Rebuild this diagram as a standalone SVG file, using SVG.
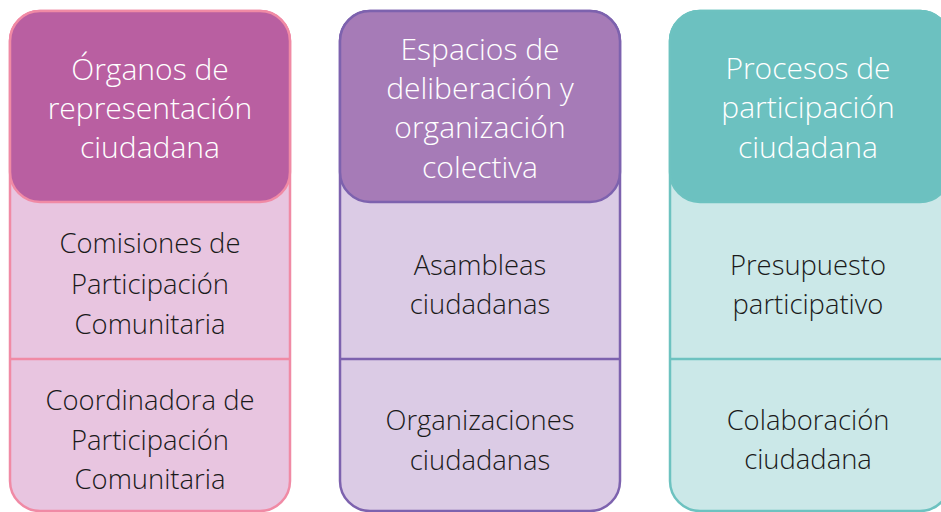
<svg xmlns="http://www.w3.org/2000/svg" width="941" height="512" viewBox="0 0 941 512">
<style>
text{font-family:"Open Sans","Noto Sans",sans-serif;font-size:27.4px;text-anchor:middle;font-weight:350}
.h{fill:#ffffff;font-size:30px}
.b{fill:#1a1a1a}
</style>
<rect width="941" height="512" fill="#ffffff"/>
<g id="col1">
<rect x="10" y="11" width="280" height="500" rx="30" fill="#e8c5e0" stroke="#f08aa5" stroke-width="2.5"/>
<line x1="10" y1="359" x2="290" y2="359" stroke="#f08aa5" stroke-width="2.5"/>
<rect x="10" y="11" width="280" height="191" rx="30" fill="#b95fa1" stroke="#f08aa5" stroke-width="2.5"/>
<text class="h" x="150" y="80">Órganos de</text>
<text class="h" x="150" y="119">representación</text>
<text class="h" x="150" y="158">ciudadana</text>
<text class="b" x="150" y="253">Comisiones de</text>
<text class="b" x="150" y="294">Participación</text>
<text class="b" x="150" y="334">Comunitaria</text>
<text class="b" x="150" y="410">Coordinadora de</text>
<text class="b" x="150" y="450">Participación</text>
<text class="b" x="150" y="489">Comunitaria</text>
</g>
<g id="col2">
<rect x="340" y="11" width="280" height="500" rx="30" fill="#dbcbe5" stroke="#7d62ae" stroke-width="2.5"/>
<line x1="340" y1="359" x2="620" y2="359" stroke="#7d62ae" stroke-width="2.5"/>
<rect x="340" y="11" width="280" height="191" rx="30" fill="#a67bb7" stroke="#7d62ae" stroke-width="2.5"/>
<text class="h" x="480" y="60">Espacios de</text>
<text class="h" x="480" y="99">deliberación y</text>
<text class="h" x="480" y="138">organización</text>
<text class="h" x="480" y="178">colectiva</text>
<text class="b" x="480" y="275">Asambleas</text>
<text class="b" x="480" y="314">ciudadanas</text>
<text class="b" x="480" y="430">Organizaciones</text>
<text class="b" x="480" y="470">ciudadanas</text>
</g>
<g id="col3">
<rect x="670" y="11" width="280" height="500" rx="30" fill="#cbe8e8" stroke="#6dc2c0" stroke-width="2.5"/>
<line x1="670" y1="359" x2="950" y2="359" stroke="#6dc2c0" stroke-width="2.5"/>
<rect x="670" y="11" width="280" height="191" rx="30" fill="#6cc1c0" stroke="#6dc2c0" stroke-width="2.5"/>
<text class="h" x="808" y="79">Procesos de</text>
<text class="h" x="808" y="118">participación</text>
<text class="h" x="808" y="158">ciudadana</text>
<text class="b" x="808" y="275">Presupuesto</text>
<text class="b" x="808" y="314">participativo</text>
<text class="b" x="808" y="430">Colaboración</text>
<text class="b" x="808" y="469">ciudadana</text>
</g>
<g id="connectors"></g>
</svg>
